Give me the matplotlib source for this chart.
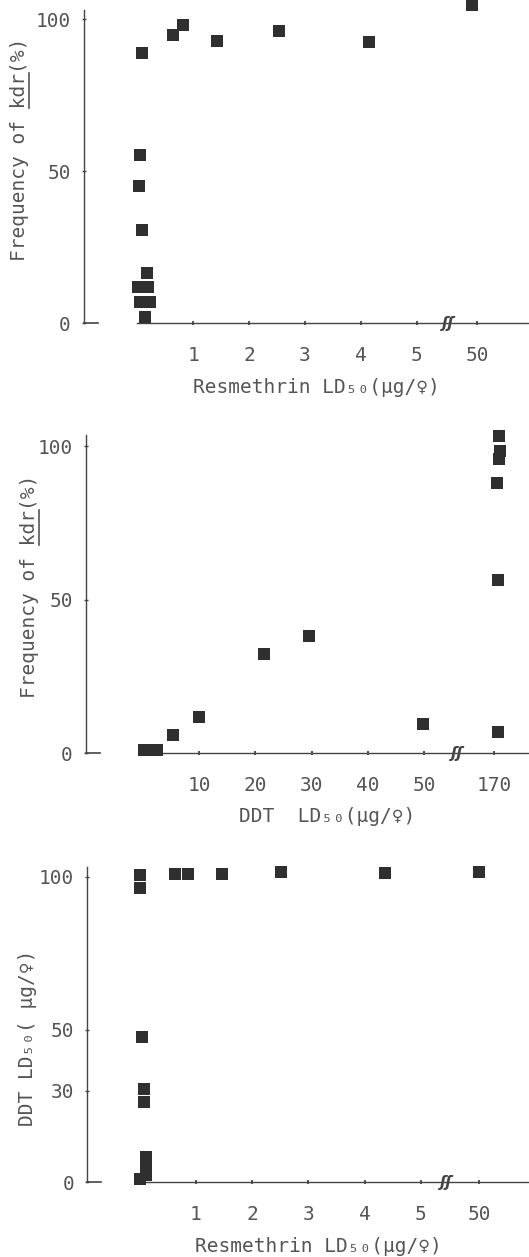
import numpy as np
import matplotlib.pyplot as plt
from matplotlib.lines import Line2D

W, H = 529, 1257

# top panel: resmethrin LD50 vs kdr frequency
res_x1 = [0.08, 0.64, 0.82, 1.43, 2.54, 4.14, 49.9, 0.04, 0.03, 0.08,
          0.17, 0.01, 0.19, 0.04, 0.22, 0.14]
kdr_y1 = [88.9, 94.7, 98.2, 93.0, 96.0, 92.4, 104.6, 55.5, 45.3, 30.7,
          16.4, 11.9, 11.9, 7.0, 7.0, 2.2]

# middle panel: DDT LD50 vs kdr frequency
ddt_x2 = [0.3, 1.4, 2.5, 5.4, 10.0, 21.6, 29.6, 49.9, 170.7, 170.7,
          170.5, 170.9, 171.0, 170.9]
kdr_y2 = [1.0, 1.0, 1.0, 6.0, 11.7, 32.2, 38.2, 9.4, 6.9, 56.4,
          88.0, 95.9, 98.5, 103.4]

# bottom panel: resmethrin LD50 vs DDT LD50
res_x3 = [0.0, 0.0, 0.63, 0.85, 1.47, 2.51, 4.37, 50.0, 0.045, 0.08,
          0.08, 0.11, 0.11, 0.11, 0.0]
ddt_y3 = [100.6, 96.2, 100.9, 100.9, 100.9, 101.4, 101.1, 101.6, 47.6, 30.5,
          26.3, 8.4, 5.3, 2.4, 1.2]

res_ticks = [1, 2, 3, 4, 5, 50]
ddt_ticks = [10, 20, 30, 40, 50, 170]

TXT = '#555555'
INK = '#2f2f2f'
LINE = '#444444'
MONO = ['DejaVu Sans Mono', 'DejaVu Sans']

plt.rcParams['font.family'] = MONO


def broken(vals, cut, tick_val, tick_pos):
    # values beyond the axis break are drawn next to their own tick
    v = np.asarray(vals, dtype=float)
    return np.where(v > cut, tick_pos + (v - tick_val), v)


def px(x, y):
    return x / W, 1 - y / H


def panel(fig, geo, xs, ys, xticks, cut, far_pos, brk_pos, yticks):
    axis_px, x0, ppu, top, y0, ppy = geo
    ax = fig.add_axes([axis_px / W, 1 - y0 / H, (W - axis_px) / W, (y0 - top) / H])
    xmin, xmax = (axis_px - x0) / ppu, (W - x0) / ppu
    ax.set_xlim(xmin, xmax)
    ax.set_ylim(0, (y0 - top) / ppy)
    far_val = xticks[-1]
    ax.scatter(broken(xs, cut, far_val, far_pos), ys, marker='s', s=82,
               color=INK, linewidths=0, clip_on=False, zorder=3)

    for s in ['top', 'right']:
        ax.spines[s].set_visible(False)
    ax.spines['left'].set_color(LINE)
    ax.spines['bottom'].set_color(LINE)
    ax.spines['left'].set_linewidth(1.0)
    ax.spines['bottom'].set_linewidth(1.0)
    ax.spines['bottom'].set_bounds(0, xmax)
    ax.axhline(0, xmin=0, xmax=14 / (W - axis_px), color=LINE, lw=1.2,
               clip_on=False)

    ax.set_xticks(broken(xticks, cut, far_val, far_pos))
    ax.set_xticklabels([str(t) for t in xticks])
    ax.set_yticks(yticks)
    ax.set_yticklabels([str(t) for t in yticks])
    ax.tick_params(axis='x', direction='inout', length=3, width=1.3,
                   color=LINE, pad=14.5, labelsize=14, labelcolor=TXT)
    ax.tick_params(axis='y', direction='inout', length=3, width=1.0,
                   color=LINE, pad=8, labelsize=14, labelcolor=TXT)
    ax.text(brk_pos, 0, 'ʃʃ', ha='center', va='center', fontsize=11,
            style='italic', weight='bold', color=LINE,
            family=['DejaVu Sans'], zorder=4)
    return ax


fig = plt.figure(figsize=(W / 100, H / 100), dpi=100)

panel(fig, (84, 137.4, 55.9, 10, 323.3, 3.04), res_x1, kdr_y1,
      res_ticks, 10, 6.08, 5.56, [0, 50, 100])
panel(fig, (86, 142.75, 5.625, 435, 753.3, 3.073), ddt_x2, kdr_y2,
      ddt_ticks, 60, 62.5, 55.9, [0, 50, 100])
panel(fig, (87.3, 139.8, 56.2, 866.7, 1182.3, 3.056), res_x3, ddt_y3,
      res_ticks, 10, 6.04, 5.45, [0, 30, 50, 100])

# axis titles
lab = dict(fontsize=14, color=TXT, family=MONO)
fig.text(*px(316, 393), 'Resmethrin LD₅₀(μg/♀)', ha='center', va='baseline', **lab)
fig.text(*px(327, 822), 'DDT  LD₅₀(μg/♀)', ha='center', va='baseline', **lab)
fig.text(*px(318, 1252), 'Resmethrin LD₅₀(μg/♀)', ha='center', va='baseline', **lab)

rot = dict(rotation=90, rotation_mode='anchor', ha='center', va='baseline', **lab)
renderer = fig.canvas.get_renderer()
ylab = 'Frequency of kdr(%)'
for bx, cy in [(25, 149), (35, 586)]:
    t = fig.text(*px(bx, cy), ylab, **rot)
    # underline "kdr": monospace, so its span is a fixed share of the text
    bb = t.get_window_extent(renderer)
    step = bb.height / len(ylab)
    k0 = bb.y0 + step * ylab.index('kdr')
    k1 = k0 + step * 3
    ux = (bx + 4) / W
    fig.add_artist(Line2D([ux, ux], [k0 / H, k1 / H], color=TXT, lw=1.2,
                          transform=fig.transFigure))
fig.text(*px(33, 1038), 'DDT LD₅₀( μg/♀)', **rot)

fig.savefig('out.png', dpi=100, facecolor='white')
